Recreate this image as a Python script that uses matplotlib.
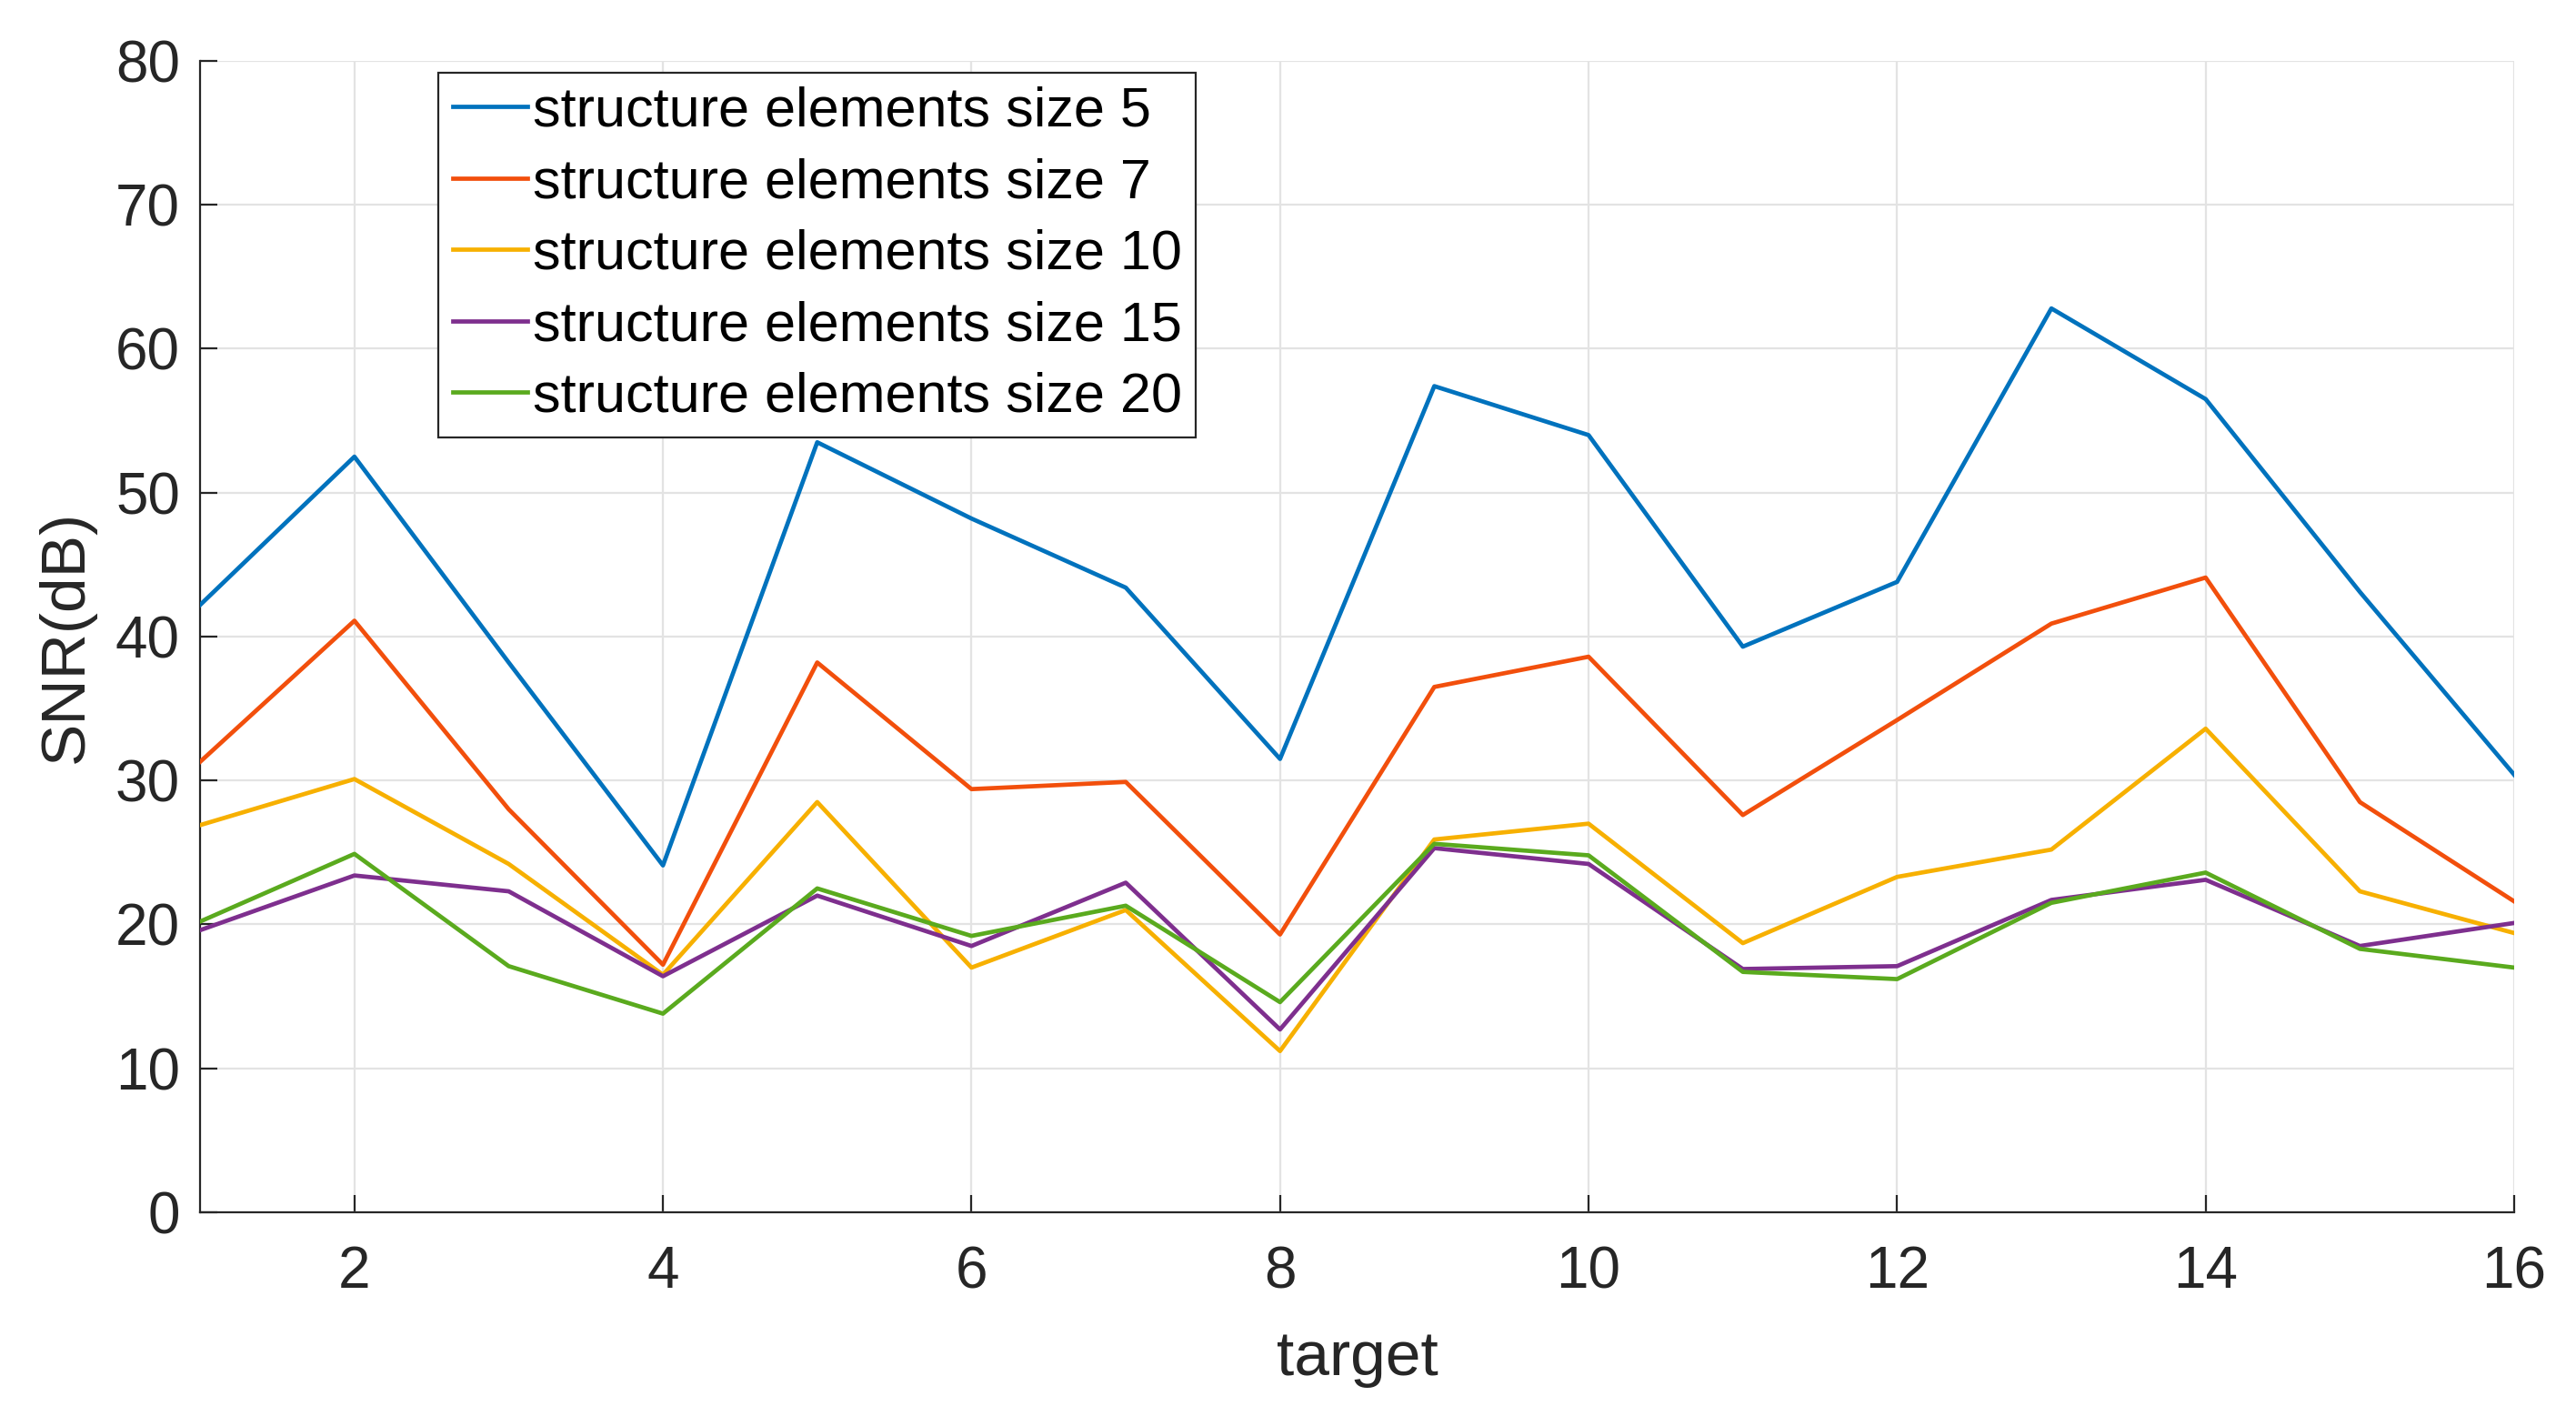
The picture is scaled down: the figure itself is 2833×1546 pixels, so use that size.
import matplotlib
matplotlib.use("Agg")
import matplotlib.pyplot as plt
from matplotlib.ticker import MultipleLocator

# SNR (dB) per target for each structure element size
targets = list(range(1, 17))
snr_size5 = [42.2, 52.5, 38.2, 24.1, 53.5, 48.2, 43.4, 31.5, 57.4, 54.0, 39.3, 43.8, 62.8, 56.5, 43.1, 30.4]
snr_size7 = [31.3, 41.1, 28.0, 17.2, 38.2, 29.4, 29.9, 19.3, 36.5, 38.6, 27.6, 34.2, 40.9, 44.1, 28.5, 21.6]
snr_size10 = [26.9, 30.1, 24.2, 16.5, 28.5, 17.0, 21.0, 11.2, 25.9, 27.0, 18.7, 23.3, 25.2, 33.6, 22.3, 19.4]
snr_size15 = [19.6, 23.4, 22.3, 16.4, 22.0, 18.5, 22.9, 12.7, 25.3, 24.2, 16.9, 17.1, 21.7, 23.1, 18.5, 20.1]
snr_size20 = [20.2, 24.9, 17.1, 13.8, 22.5, 19.2, 21.3, 14.6, 25.6, 24.8, 16.7, 16.2, 21.5, 23.6, 18.3, 17.0]

series_labels = [
    "structure elements size 5",
    "structure elements size 7",
    "structure elements size 10",
    "structure elements size 15",
    "structure elements size 20",
]
series_colors = ["#0072BD", "#F24F0C", "#F7B000", "#7E2F8E", "#5AAA1E"]

plt.rcParams["font.family"] = ["Liberation Sans", "DejaVu Sans"]

fig = plt.figure(figsize=(2833 / 200, 1546 / 200), dpi=200)
ax = fig.add_axes([0.0777, 0.1378, 0.976 - 0.0777, 0.9567 - 0.1378])

for vals, lab, col in zip(
    [snr_size5, snr_size7, snr_size10, snr_size15, snr_size20], series_labels, series_colors
):
    ax.plot(targets, vals, color=col, linewidth=1.7, label=lab, zorder=3)

ax.set_xlim(1, 16)
ax.set_ylim(0, 80)
ax.xaxis.set_major_locator(MultipleLocator(2))
ax.yaxis.set_major_locator(MultipleLocator(10))
ax.grid(True, color="#e3e3e3", linewidth=0.8)
ax.set_axisbelow(True)

for side in ("top", "right"):
    ax.spines[side].set_visible(False)
for side in ("left", "bottom"):
    ax.spines[side].set_color("#262626")
    ax.spines[side].set_linewidth(0.8)

ax.tick_params(direction="in", length=7, width=0.8, colors="#262626", labelsize=23)
ax.tick_params(axis="x", pad=13)
ax.tick_params(axis="y", pad=8)
ax.set_xlabel("target", fontsize=25, color="#262626", labelpad=12)
ax.set_ylabel("SNR(dB)", fontsize=25, color="#262626", labelpad=8)

leg = ax.legend(
    loc="upper left",
    bbox_to_anchor=(0.103, 0.99),
    fontsize=22,
    handlelength=1.35,
    handletextpad=0.1,
    labelspacing=0.35,
    borderpad=0.25,
    borderaxespad=0.0,
    fancybox=False,
    framealpha=1,
    edgecolor="#262626",
)
leg.get_frame().set_linewidth(0.8)

fig.savefig("out.png", dpi=200)
